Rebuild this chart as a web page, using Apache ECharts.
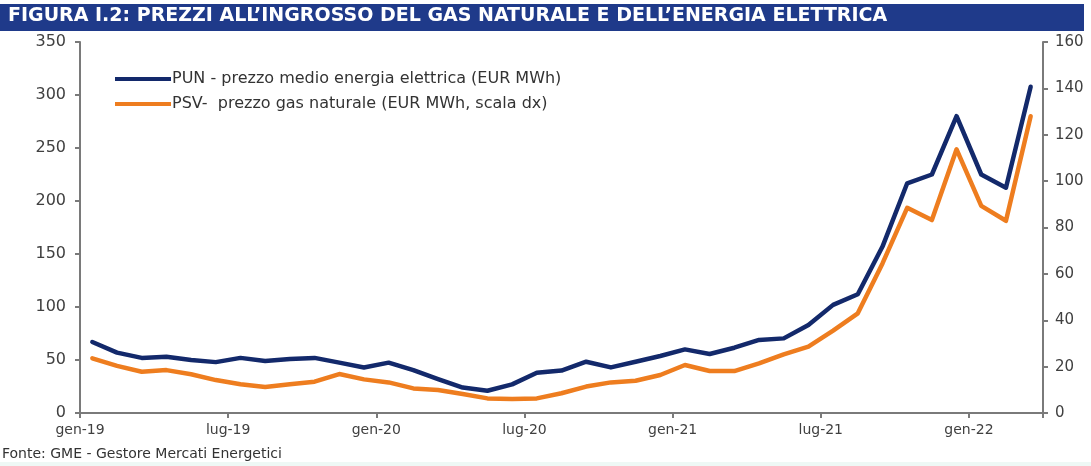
<!DOCTYPE html>
<html>
<head>
<meta charset="utf-8">
<script src="https://cdn.jsdelivr.net/npm/echarts@6/dist/echarts.min.js"></script>
<style>
  html, body { margin: 0; padding: 0; background: #fff; }
  #chart { width: 1091px; height: 466px; }
</style>
</head>
<body>
<div id="chart"></div>
<script>
const months = [
  "gen-19", "feb-19", "mar-19", "apr-19", "mag-19", "giu-19", "lug-19", "ago-19", "set-19", "ott-19", "nov-19", "dic-19",
  "gen-20", "feb-20", "mar-20", "apr-20", "mag-20", "giu-20", "lug-20", "ago-20", "set-20", "ott-20", "nov-20", "dic-20",
  "gen-21", "feb-21", "mar-21", "apr-21", "mag-21", "giu-21", "lug-21", "ago-21", "set-21", "ott-21", "nov-21", "dic-21",
  "gen-22", "feb-22", "mar-22",
];
const tickLabels = ["gen-19", "lug-19", "gen-20", "lug-20", "gen-21", "lug-21", "gen-22"];

// PUN, scala sinistra (EUR/MWh)
const pun = [
  67, 57, 52, 53, 50, 48, 52, 49, 51, 52, 47.5, 43,
  47.5, 40.5, 32, 24, 21, 27, 38, 40, 48.4, 43, 48.4, 53.8,
  60, 55.7, 61.6, 68.9, 70.4, 83, 102, 112, 157, 216.7, 225, 280,
  225, 212.5, 307.8,
];
// PSV, scala destra (EUR/MWh)
const psv = [
  23.6, 20.3, 17.8, 18.5, 16.7, 14.2, 12.4, 11.2, 12.4, 13.5, 16.8, 14.5,
  13.2, 10.6, 9.9, 8.2, 6.3, 6.0, 6.3, 8.5, 11.4, 13.2, 13.9, 16.4,
  20.7, 18.1, 18.1, 21.4, 25.3, 28.6, 35.5, 43, 64.5, 88.5, 83.2, 113.7,
  89.3, 82.9, 128,
];

const NAVY = "#13296b";
const ORANGE = "#ee7d1f";
const FONT = "DejaVu Sans";
const AXIS = "#7a7a7a";

// ogni mese occupa una banda: il punto sta al centro, le etichette sul bordo
const toPoints = (values) => values.map((v, i) => [i + 0.5, v]);

const chart = echarts.init(document.getElementById("chart"), null, { renderer: "canvas" });
chart.setOption({
  animation: false,
  backgroundColor: "#fff",
  textStyle: { fontFamily: FONT },
  graphic: [
    { type: "rect", left: 0, top: 4, shape: { width: 1084, height: 27 }, style: { fill: "#1f3a8a" }, z: 0 },
    { type: "text", left: 8, top: 7, style: { text: "FIGURA I.2: PREZZI ALL’INGROSSO DEL GAS NATURALE E DELL’ENERGIA ELETTRICA", fill: "#fff", font: `bold 19px "${FONT}"` }, z: 1 },
    { type: "text", left: 2, top: 447, style: { text: "Fonte: GME - Gestore Mercati Energetici", fill: "#333", font: `14px "${FONT}"` } },
    { type: "rect", left: 0, top: 462, shape: { width: 1091, height: 4 }, style: { fill: "#eef8f5" } },
  ],
  legend: {
    orient: "vertical",
    left: 110,
    top: 66,
    icon: "rect",
    itemWidth: 56,
    itemHeight: 4,
    itemGap: 9,
    textStyle: { fontFamily: FONT, fontSize: 16, color: "#333", padding: [0, 0, 0, -4] },
    data: ["PUN - prezzo medio energia elettrica (EUR MWh)", "PSV-  prezzo gas naturale (EUR MWh, scala dx)"],
  },
  grid: { left: 80, right: 48, top: 42, bottom: 53 },
  xAxis: {
    type: "value",
    min: 0,
    max: months.length,
    interval: 6,
    axisLine: { lineStyle: { color: AXIS, width: 2 } },
    axisTick: { show: true, length: 5, lineStyle: { color: AXIS, width: 2 } },
    splitLine: { show: false },
    axisLabel: {
      color: "#404040",
      fontSize: 14,
      fontFamily: FONT,
      margin: 10,
      formatter: (v) => (v % 6 === 0 && v / 6 < tickLabels.length ? tickLabels[v / 6] : ""),
    },
  },
  yAxis: [
    {
      type: "value", min: 0, max: 350, interval: 50, position: "left",
      axisLine: { show: true, lineStyle: { color: AXIS, width: 2 } },
      axisTick: { show: true, length: 5, lineStyle: { color: AXIS, width: 2 } },
      splitLine: { show: false },
      axisLabel: { color: "#404040", fontSize: 16, fontFamily: FONT, margin: 14 },
    },
    {
      type: "value", min: 0, max: 160, interval: 20, position: "right",
      axisLine: { show: true, lineStyle: { color: AXIS, width: 2 } },
      axisTick: { show: true, length: 5, lineStyle: { color: AXIS, width: 2 } },
      splitLine: { show: false },
      axisLabel: { color: "#404040", fontSize: 15, fontFamily: FONT, margin: 12 },
    },
  ],
  series: [
    {
      name: "PUN - prezzo medio energia elettrica (EUR MWh)", type: "line", yAxisIndex: 0,
      data: toPoints(pun), showSymbol: false, symbol: "none",
      lineStyle: { color: NAVY, width: 4.5, join: "round", cap: "round" }, itemStyle: { color: NAVY }, z: 3,
    },
    {
      name: "PSV-  prezzo gas naturale (EUR MWh, scala dx)", type: "line", yAxisIndex: 1,
      data: toPoints(psv), showSymbol: false, symbol: "none",
      lineStyle: { color: ORANGE, width: 4.5, join: "round", cap: "round" }, itemStyle: { color: ORANGE }, z: 2,
    },
  ],
});
</script>
</body>
</html>
